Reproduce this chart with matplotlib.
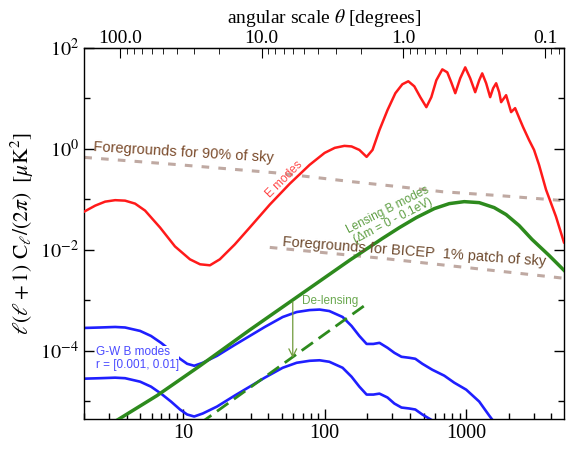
import numpy as np
import matplotlib
matplotlib.use('Agg')
import matplotlib.pyplot as plt
from matplotlib.ticker import FixedLocator, FixedFormatter, LogLocator, NullFormatter

plt.rcParams['font.family'] = 'Liberation Serif'
plt.rcParams['mathtext.fontset'] = 'stix'

# E modes
ell_e = [2.01, 2.40, 2.82, 3.32, 3.90, 4.59, 5.40, 6.89, 8.78, 11.2, 13.2, 15.5, 18.2, 23.2, 29.6,
         41.0, 56.7, 78.4, 100, 118, 138, 155, 176, 198, 218, 244, 278, 316, 354, 390, 430, 474,
         523, 567, 615, 678, 735, 784, 837, 907, 984, 1067, 1157, 1235, 1297, 1383, 1476, 1549,
         1627, 1708, 1764, 1913, 2075, 2214, 2401, 2520, 2778, 3013, 3267, 3660, 4303, 4898]
cl_e = [0.0574, 0.0753, 0.0903, 0.0966, 0.0945, 0.0825, 0.0600, 0.0277, 0.0117, 0.0065, 0.00518,
        0.00495, 0.0065, 0.0128, 0.0277, 0.0788, 0.204, 0.484, 0.834, 1.05, 1.15, 1.12, 0.956,
        0.696, 0.956, 2.37, 5.87, 12.7, 19.1, 21.9, 17.4, 10.6, 6.72, 10.6, 22.9, 37.7, 32.9,
        20.9, 12.7, 25.1, 41.3, 25.1, 13.3, 22.9, 31.4, 20.0, 10.6, 15.9, 20.0, 13.3, 8.44, 11.6,
        5.36, 6.43, 3.73, 2.71, 1.50, 0.956, 0.484, 0.156, 0.0457, 0.0141]

# lensing B modes
ell_lens = [3.06, 6.56, 13.2, 29.6, 66.7, 150, 256, 338, 445, 595, 759, 968, 1235, 1575, 1913,
            2362, 2916, 3842, 4898]
cl_lens = [3.48e-6, 1.30e-5, 5.06e-5, 2.59e-4, 1.27e-3, 6.21e-3, 0.01685, 0.0277, 0.0437, 0.0657,
           0.0825, 0.0903, 0.0863, 0.0688, 0.0501, 0.0304, 0.0161, 0.00779, 0.00395]

# de-lensed residual
ell_delens = [13.2, 207]
cl_delens = [3.65e-6, 9.24e-4]

# G-W B modes, r = 0.01 and r = 0.001
ell_gw = [2.01, 2.60, 3.32, 3.90, 4.98, 5.95, 7.00, 8.23, 9.53, 10.7, 12.0, 13.8, 17.4, 23.2,
          29.6, 37.8, 50.6, 63.5, 78.4, 92.2, 108, 134, 155, 176, 198, 221, 244, 278, 311, 349,
          397, 437, 490, 576, 700, 823, 1000, 1235, 1452, 1600]
cl_gw_hi = [2.84e-4, 2.90e-4, 2.97e-4, 2.90e-4, 2.48e-4, 1.97e-4, 1.44e-4, 1.0e-4, 6.96e-5,
            5.54e-5, 5.06e-5, 5.80e-5, 7.97e-5, 1.31e-4, 1.97e-4, 2.97e-4, 4.68e-4, 5.87e-4,
            6.42e-4, 6.57e-4, 6.14e-4, 4.68e-4, 3.11e-4, 1.97e-4, 1.37e-4, 1.37e-4, 1.44e-4,
            1.15e-4, 9.13e-5, 7.62e-5, 7.28e-5, 6.96e-5, 5.54e-5, 4.22e-5, 3.22e-5, 2.34e-5,
            1.70e-5, 9.89e-6, 5.24e-6, 3.64e-6]
ell_gw_lo = ell_gw[:34] + [700]
cl_gw_lo = [2.81e-5, 2.87e-5, 2.94e-5, 2.87e-5, 2.45e-5, 1.95e-5, 1.42e-5, 9.89e-6, 6.88e-6,
            5.48e-6, 5.00e-6, 5.74e-6, 7.88e-6, 1.30e-5, 1.95e-5, 2.94e-5, 4.62e-5, 5.80e-5,
            6.35e-5, 6.50e-5, 6.07e-5, 4.62e-5, 3.07e-5, 1.95e-5, 1.36e-5, 1.36e-5, 1.42e-5,
            1.19e-5, 9.03e-6, 7.53e-6, 7.20e-6, 6.88e-6, 5.48e-6, 4.18e-6, 3.18e-6]

# foregrounds
ell_fg90 = [2.01, 9.53, 44.5, 157, 338, 678, 1708, 4898]
cl_fg90 = [0.68, 0.484, 0.337, 0.224, 0.178, 0.142, 0.119, 0.0945]
ell_fgbicep = [41.0, 256, 1297, 4898]
cl_fgbicep = [0.0112, 0.00680, 0.00413, 0.00274]

theta_ticks = [100, 10, 1, 0.1]
theta_labels = ['100.0', '10.0', '1.0', '0.1']

fig = plt.figure(figsize=(5.66, 4.53), dpi=100)
ax = fig.add_axes([0.1484, 0.0751, 0.8480, 0.8190])

fg_col = '#bfa9a2'
ax.plot(ell_fg90, cl_fg90, color=fg_col, lw=2.2, dashes=(2.5, 3), zorder=1)
ax.plot(ell_fgbicep, cl_fgbicep, color=fg_col, lw=2.2, dashes=(2.5, 3), zorder=1)

ax.plot(ell_gw, cl_gw_hi, color='#1f1fff', lw=1.9, zorder=2)
ax.plot(ell_gw_lo, cl_gw_lo, color='#1f1fff', lw=1.9, zorder=2)
ax.plot(ell_delens, cl_delens, color='#2d8a1d', lw=2.0, dashes=(5, 2.5), zorder=3)
ax.plot(ell_lens, cl_lens, color='#2d8a1d', lw=2.5, zorder=3)
ax.plot(ell_e, cl_e, color='#ff1a1a', lw=1.8, zorder=4)

ax.set_xscale('log')
ax.set_yscale('log')
ax.set_xlim(2, 4900)
ax.set_ylim(10**-5.35, 100)

# text labels
ax.text(2.32, 0.83, 'Foregrounds for 90% of sky', family='Liberation Sans', fontsize=10.5,
        color='#7a4a2a', rotation=-3.5, ha='left', va='center', zorder=5)
ax.text(431, 0.0093, 'Foregrounds for BICEP  1% patch of sky', family='Liberation Sans',
        fontsize=10.5, color='#6e4a2e', rotation=-4.3, ha='center', va='center', zorder=5)
ax.text(52, 0.245, 'E modes', family='Liberation Sans', fontsize=8.5, color='#ff4a4a',
        rotation=45, ha='center', va='center', rotation_mode='anchor', zorder=5)
ax.text(292, 0.048, 'Lensing B modes\n(\u0394m = 0 - 0.1eV)', family='Liberation Sans',
        fontsize=8.5, color='#5f9f44', rotation=27, ha='center', va='center',
        multialignment='center', rotation_mode='anchor', linespacing=1.0, zorder=5)
ax.text(68.9, 9.66e-4, 'De-lensing', family='Liberation Sans', fontsize=8.5,
        color='#6aa84f', ha='left', va='center', zorder=5)
ax.annotate('', xy=(59.6, 6.35e-5), xytext=(59.6, 1.06e-3),
            arrowprops=dict(arrowstyle='->', color='#6f9a3a', lw=0.9,
                            mutation_scale=14), zorder=5)
ax.text(2.44, 7.11e-5, 'G-W B modes\nr = [0.001, 0.01]', family='Liberation Sans',
        fontsize=8.5, color='#4a4aff', ha='left', va='center', linespacing=1.05,
        bbox=dict(facecolor='white', edgecolor='none', pad=0.1), zorder=5)

# axes and ticks
ax.xaxis.set_major_locator(FixedLocator([10, 100, 1000]))
ax.xaxis.set_major_formatter(FixedFormatter(['10', '100', '1000']))
ax.xaxis.set_minor_locator(LogLocator(base=10, subs=np.arange(2, 10), numticks=30))
ax.xaxis.set_minor_formatter(NullFormatter())
ax.yaxis.set_major_locator(FixedLocator([1e-4, 1e-2, 1, 1e2]))
ax.yaxis.set_major_formatter(FixedFormatter([r'$10^{-4}$', r'$10^{-2}$', r'$10^{0}$', r'$10^{2}$']))
ax.yaxis.set_minor_locator(FixedLocator([1e-5, 1e-3, 1e-1, 1e1]))
ax.yaxis.set_minor_formatter(NullFormatter())
ax.tick_params(axis='x', which='both', direction='in', top=False, bottom=True, labelsize=14.5)
ax.tick_params(axis='y', which='both', direction='in', left=True, right=True, labelsize=14.5)
ax.tick_params(which='major', length=7, width=1)
ax.tick_params(which='minor', length=4, width=1)
ax.set_ylabel(r'$\ell(\ell+1)\ \mathrm{C}_\ell/(2\pi)\ \ [\mu\mathrm{K}^2]$', fontsize=15.5,
              labelpad=3)


def ell_to_theta(l):
    l = np.asarray(l, dtype=float)
    with np.errstate(divide='ignore'):
        return 360.0 / l


sec = ax.secondary_xaxis('top', functions=(ell_to_theta, ell_to_theta))
sec.xaxis.set_major_locator(FixedLocator(theta_ticks))
sec.xaxis.set_major_formatter(FixedFormatter(theta_labels))
sec.xaxis.set_minor_locator(LogLocator(base=10, subs=np.arange(2, 10), numticks=30))
sec.xaxis.set_minor_formatter(NullFormatter())
sec.tick_params(which='both', direction='in', labelsize=14, pad=1)
sec.tick_params(which='major', length=7)
sec.tick_params(which='minor', length=4)
sec.set_xlabel(r'angular scale $\theta$ [degrees]', fontsize=14, labelpad=5)

for s in ax.spines.values():
    s.set_linewidth(1.0)

fig.savefig('out.png', dpi=100)
